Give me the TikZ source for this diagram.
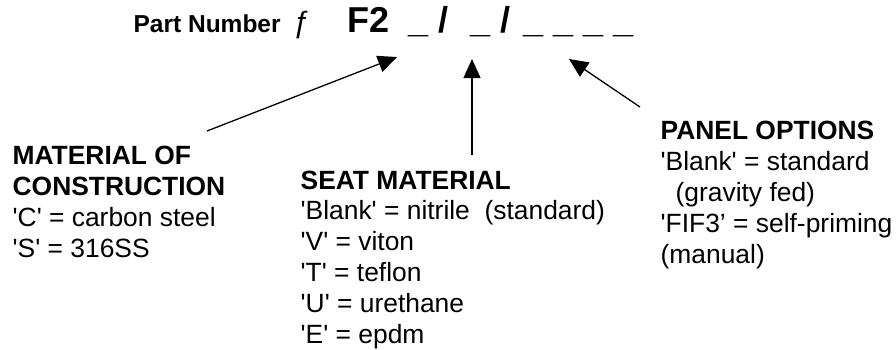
\documentclass[tikz,border=0pt]{standalone}
\usepackage{fontspec}
\setmainfont{Liberation Sans}[Ligatures=TeXOff]
\usetikzlibrary{arrows.meta}
\tikzset{every node/.style={inner sep=0pt,anchor=base west,align=left}}
\tikzset{every path/.style={line width=1.3pt,-{Triangle[length=19pt,width=17pt]}}}
\tikzset{hd/.style={font=\bfseries\fontsize{24.5}{28}\selectfont}}
\tikzset{cd/.style={font=\bfseries\fontsize{36}{40}\selectfont}}
\tikzset{lbl/.style={font=\fontsize{26.4}{30.8}\selectfont}}

\begin{document}
\begin{tikzpicture}[x=1pt,y=-1pt]
\useasboundingbox (0,0) rectangle (896,349);
\node[hd] (pn) at (133,32) {Part Number};
\node[font=\fontsize{30}{32}\selectfont] (fn) at (293,32) {ƒ};
\node[cd] (f2) at (347,32) {F2};
\node[cd] (b1) at (408,32) {\_};
\node[cd] (s1) at (438,32) {/};
\node[cd] (b2) at (470,32) {\_};
\node[cd] (s2) at (500,32) {/};
\node[cd] (b3) at (523,32) {\_};
\node[cd] (b4) at (553,32) {\_};
\node[cd] (b5) at (583,32) {\_};
\node[cd] (b6) at (613,32) {\_};
% base of a block is its last line
\node[lbl] (mat) at (12,257) {\textbf{MATERIAL OF}\\\textbf{CONSTRUCTION}\\'C' = carbon steel\\'S' = 316SS};
\node[lbl] (seat) at (300,343) {\textbf{SEAT MATERIAL}\\'Blank' = nitrile\ \ (standard)\\'V' = viton\\'T' = teflon\\'U' = urethane\\'E' = epdm};
\node[lbl] (panel) at (660,263) {\textbf{PANEL OPTIONS}\\'Blank' = standard\\\hspace*{15pt}(gravity fed)\\'FIF3’ = self-priming\\(manual)};
\coordinate (matTail) at (207,131);
\coordinate (matTip) at (397,57);
\coordinate (seatTail) at (472,155);
\coordinate (seatTip) at (472,59);
\coordinate (panTail) at (640,107);
\coordinate (panTip) at (569,59);
\draw (matTail) -- (matTip);
\draw (seatTail) -- (seatTip);
\draw (panTail) -- (panTip);
\end{tikzpicture}
\end{document}
